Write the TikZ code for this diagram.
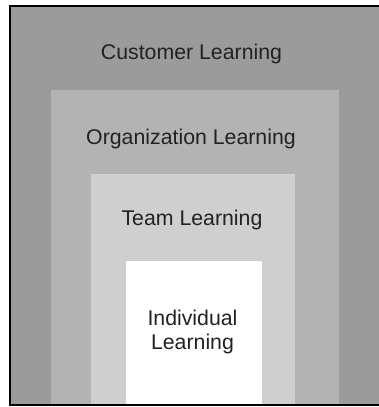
\documentclass[tikz,border=0pt]{standalone}
\usepackage{fontspec}
\setmainfont{Liberation Sans}
\definecolor{custgray}{HTML}{9B9B9B}
\definecolor{orggray}{HTML}{B3B3B3}
\definecolor{teamgray}{HTML}{CFCFCF}
\definecolor{txtgray}{HTML}{222222}
\tikzset{
  lbl/.style={font=\fontsize{21.3}{24}\selectfont, text=txtgray, inner sep=0pt, align=center},
  frameline/.style={draw=black, line width=2pt}
}
\begin{document}
\begin{tikzpicture}[x=1pt,y=-1pt]
\useasboundingbox (0,0) rectangle (379,407);
\begin{scope}
\clip (0,0) rectangle (379,407);
% layers
\fill[custgray] (10,5.5) rectangle (395,405);
\fill[orggray] (51,90) rectangle (339,405);
\fill[teamgray] (91,174) rectangle (295,405);
\fill[white] (126,261) rectangle (262,405);
% frame
\draw[frameline] (395,5.5) -- (10,5.5) -- (10,405) -- (395,405);
\end{scope}
% labels
\node[lbl, anchor=base] (cust) at (191.5,59) {Customer Learning};
\node[lbl, anchor=base] (org) at (191,144) {Organization Learning};
\node[lbl, anchor=base] (team) at (192,225) {Team Learning};
\node[lbl, anchor=center] (indiv) at (192.5,331.5) {Individual\\Learning};
\end{tikzpicture}
\end{document}
